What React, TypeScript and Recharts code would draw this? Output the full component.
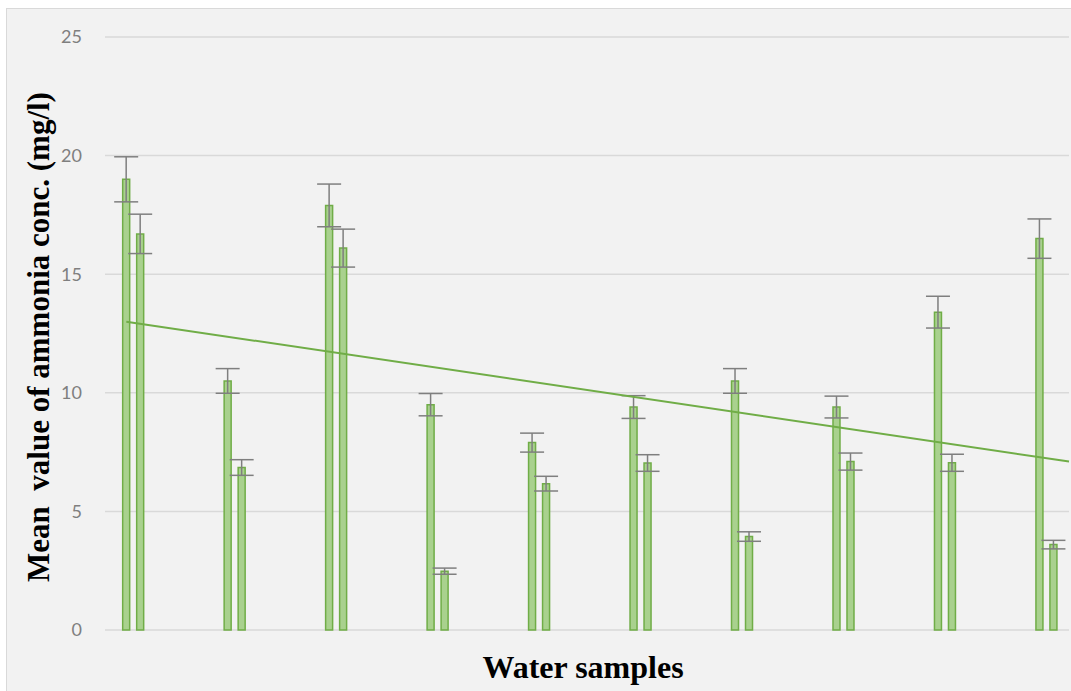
import React from 'react';
import {
  ComposedChart,
  Bar,
  XAxis,
  YAxis,
  CartesianGrid,
  ErrorBar,
  ReferenceLine,
  Label
} from 'recharts';

// ten water samples, two readings each
const samples = [1, 2, 3, 4, 5, 6, 7, 8, 9, 10];
const firstValues = [19.0, 10.5, 17.9, 9.5, 7.9, 9.4, 10.5, 9.4, 13.4, 16.5];
const firstErrors = [0.95, 0.52, 0.9, 0.47, 0.4, 0.48, 0.52, 0.46, 0.67, 0.83];
const secondValues = [16.7, 6.85, 16.1, 2.48, 6.17, 7.04, 3.94, 7.1, 7.05, 3.6];
const secondErrors = [0.83, 0.33, 0.8, 0.13, 0.31, 0.35, 0.2, 0.36, 0.36, 0.18];
const yTicks = [0, 5, 10, 15, 20, 25];
// linear trend, start and end values
const trendValues = [13.0, 7.1];

const data = samples.map((s, i) => ({
  sample: s,
  first: firstValues[i],
  firstErr: firstErrors[i],
  second: secondValues[i],
  secondErr: secondErrors[i]
}));

const X_MIN = 0.72;
const X_MAX = 10.22;
const GREEN = '#70ad47';
const FILL = '#a9d18e';
const ERR = '#7f7f7f';
const serif = '"Liberation Serif", "Times New Roman", serif';

const App: React.FC = () => {
  return (
    <div
      style={{
        position: 'absolute',
        left: 6,
        top: 8,
        width: 1065,
        height: 682,
        background: '#f2f2f2',
        borderTop: '1px solid #d9d9d9',
        borderLeft: '1px solid #d9d9d9'
      }}
    >
      <ComposedChart
        width={1064}
        height={682}
        data={data}
        margin={{ top: 28, right: 2, bottom: 0, left: 0 }}
        barGap={7}
      >
        <CartesianGrid vertical={false} stroke="#d9d9d9" strokeWidth={1.5} />
        <XAxis
          dataKey="sample"
          type="number"
          domain={[X_MIN, X_MAX]}
          allowDataOverflow
          height={61}
          tick={false}
          tickLine={false}
          axisLine={false}
        >
          <Label
            content={() => (
              <text
                x={576}
                y={669}
                textAnchor="middle"
                fontFamily={serif}
                fontWeight="bold"
                fontSize={32}
                fill="#000"
              >
                Water samples
              </text>
            )}
          />
        </XAxis>
        <YAxis
          domain={[0, 25]}
          ticks={yTicks}
          width={98}
          tickSize={0}
          tickMargin={23}
          tickLine={false}
          axisLine={false}
          tick={{ fill: '#7f7f7f', fontSize: 18, fontFamily: 'Lato, "Open Sans", sans-serif' }}
        >
          <Label
            content={() => (
              <text
                x={42}
                y={328}
                transform="rotate(-90, 42, 328)"
                textAnchor="middle"
                fontFamily={serif}
                fontWeight="bold"
                fontSize={31}
                fill="#000"
                style={{ whiteSpace: 'pre' }}
              >
                {'Mean  value of ammonia conc. (mg/l)'}
              </text>
            )}
          />
        </YAxis>
        <Bar
          dataKey="first"
          barSize={7}
          fill={FILL}
          stroke={GREEN}
          strokeWidth={1.5}
          isAnimationActive={false}
        >
          <ErrorBar dataKey="firstErr" width={12} stroke={ERR} strokeWidth={1.5} direction="y" />
        </Bar>
        <Bar
          dataKey="second"
          barSize={7}
          fill={FILL}
          stroke={GREEN}
          strokeWidth={1.5}
          isAnimationActive={false}
        >
          <ErrorBar dataKey="secondErr" width={12} stroke={ERR} strokeWidth={1.5} direction="y" />
        </Bar>
        <ReferenceLine
          segment={[
            { x: 0.93, y: trendValues[0] },
            { x: X_MAX, y: trendValues[1] }
          ]}
          stroke={GREEN}
          strokeWidth={2}
        />
      </ComposedChart>
    </div>
  );
};

export default App;
